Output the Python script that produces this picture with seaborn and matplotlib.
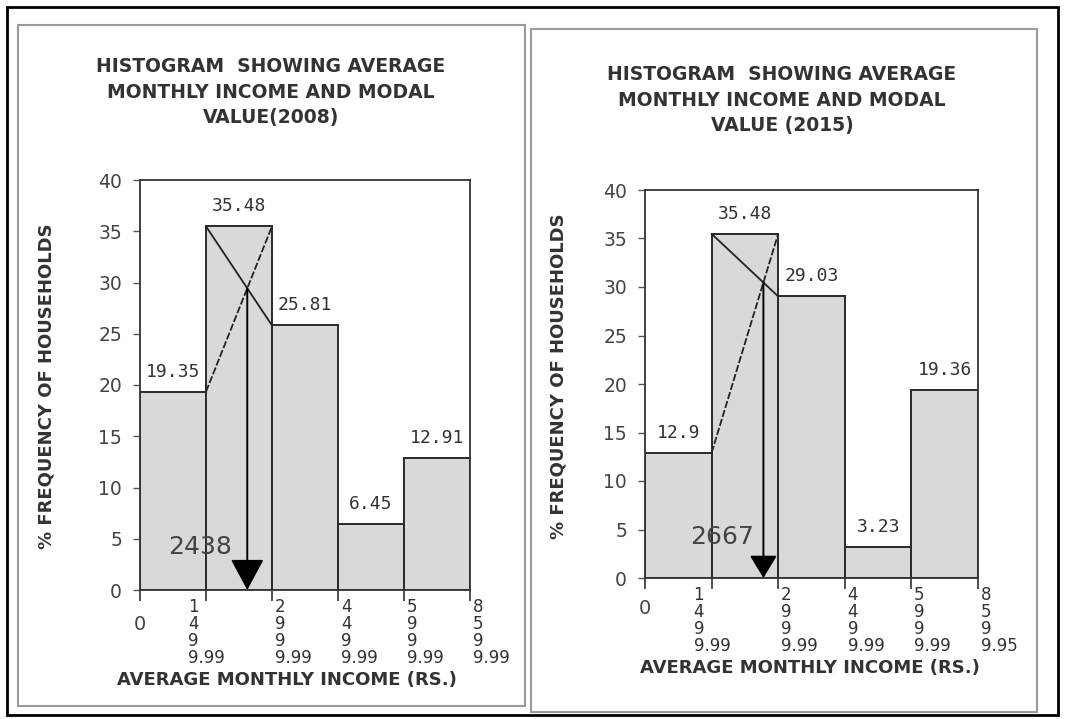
import numpy as np
import matplotlib
matplotlib.use("Agg")
import matplotlib.pyplot as plt
import seaborn as sns
from matplotlib.patches import Rectangle

# income classes (Rs.) - labels written under each class edge
edge_labels_2008 = ["0", "1499.99", "2999.99", "4499.99", "5999.99", "8599.99"]
edge_labels_2015 = ["0", "1499.99", "2999.99", "4499.99", "5999.99", "8599.95"]
class_lower = [0, 1500, 3000, 4500, 6000]
class_width = 1500

# % frequency of households per class
freq_2008 = [19.35, 35.48, 25.81, 6.45, 12.91]
freq_2015 = [12.9, 35.48, 29.03, 3.23, 19.36]

title_2008 = "HISTOGRAM  SHOWING AVERAGE\nMONTHLY INCOME AND MODAL\nVALUE(2008)"
title_2015 = "HISTOGRAM  SHOWING AVERAGE\nMONTHLY INCOME AND MODAL\nVALUE (2015)"
xlabel = "AVERAGE MONTHLY INCOME (RS.)"
ylabel = "% FREQUENCY OF HOUSEHOLDS"
yticks = [0, 5, 10, 15, 20, 25, 30, 35, 40]

sns.set_style("white")
plt.rcParams["font.family"] = ["DejaVu Sans"]

W, H = 1065, 719
fig = plt.figure(figsize=(W / 100, H / 100), dpi=100)
fig.patch.set_facecolor("white")


def fx(px):
    return px / W


def fy(py):
    return 1 - py / H


# outer frame and the two panel frames
fig.patches.append(Rectangle((fx(7), fy(715)), fx(1058) - fx(7), fy(7) - fy(715),
                             transform=fig.transFigure, fill=False, ec="black", lw=2))
fig.patches.append(Rectangle((fx(18), fy(706)), fx(525) - fx(18), fy(25) - fy(706),
                             transform=fig.transFigure, fill=False, ec="#9a9a9a", lw=1.5))
fig.patches.append(Rectangle((fx(531), fy(712)), fx(1037) - fx(531), fy(29) - fy(712),
                             transform=fig.transFigure, fill=False, ec="#9a9a9a", lw=1.5))


def draw_panel(box, freq, edge_labels, title, title_x, title_y, ylab_xy, xlab_xy,
               zero_drop, head, mode_text_shift):
    left, top, right, bottom = box
    ax = fig.add_axes([fx(left), fy(bottom), fx(right) - fx(left), fy(top) - fy(bottom)])
    pos = list(range(len(freq)))
    sns.barplot(x=pos, y=freq, ax=ax, width=1.0, color="#d9d9d9", saturation=1,
                edgecolor="#2a2a2a", linewidth=1.4)
    ax.set_xlim(-0.5, len(freq) - 0.5)
    ax.set_ylim(0, 40)
    ax.set_yticks(yticks)
    ax.set_yticklabels([str(t) for t in yticks], fontsize=13.5, color="#444444")
    edges = [p - 0.5 for p in pos] + [pos[-1] + 0.5]
    ax.set_xticks(edges)
    ax.set_xticklabels([])
    ax.tick_params(axis="y", direction="out", length=5, width=1, color="#555555", pad=8, left=True)
    ax.tick_params(axis="x", direction="out", length=8, width=1.2, color="#333333", bottom=True)
    ax.set_xlabel("")
    ax.set_ylabel("")
    for s in ax.spines.values():
        s.set_color("#333333")
        s.set_linewidth(1.3)

    # bar value labels
    for p, v in zip(pos, freq):
        ax.annotate(str(v), xy=(p, v), xytext=(0, 8), textcoords="offset points",
                    ha="center", va="bottom", fontsize=13, color="#333333",
                    family="DejaVu Sans Mono")

    # modal class construction
    k = int(np.argmax(freq))
    f0, f1, f2 = freq[k - 1], freq[k], freq[k + 1]
    t = (f1 - f0) / ((f1 - f0) + (f1 - f2))
    xm = k - 0.5 + t
    ym = f0 + (f1 - f0) * t
    ax.plot([k - 0.5, k + 0.5], [f1, f2], color="#222222", lw=1.3)
    ax.plot([k - 0.5, k + 0.5], [f0, f1], color="#222222", lw=1.3, ls=(0, (4, 1.2)))
    ax.annotate("", xy=(xm, 0), xytext=(xm, ym),
                arrowprops=dict(arrowstyle="-|>,head_length=%.2f,head_width=%.2f" % head,
                                color="black", lw=1.4, shrinkA=0, shrinkB=0))
    mode_val = class_lower[k] + t * class_width
    ax.text(xm + mode_text_shift, 4.2, "%d" % round(mode_val), ha="center", va="center",
            fontsize=18, color="#444444")

    # stacked edge labels
    for i, (e, lab) in enumerate(zip(edges, edge_labels)):
        if lab == "0":
            ax.annotate("0", xy=(e, 0), xytext=(0, -zero_drop), textcoords="offset points",
                        ha="center", va="center", fontsize=14, color="#444444")
            continue
        stacked = "\n".join(list(lab[:3])) + "\n" + lab[3:]
        dx = -13 if i == 1 else 2
        ax.annotate(stacked, xy=(e, 0), xytext=(dx, -6), textcoords="offset points",
                    ha="left", va="top", fontsize=12, color="#333333", linespacing=0.92,
                    multialignment="left")

    fig.text(fx(title_x), fy(title_y), title, ha="center", va="center", fontsize=13.5,
             fontweight="bold", color="#333333", linespacing=1.45)
    fig.text(fx(ylab_xy[0]), fy(ylab_xy[1]), ylabel, rotation=90, ha="center", va="center",
             fontsize=13, fontweight="bold", color="#333333")
    fig.text(fx(xlab_xy[0]), fy(xlab_xy[1]), xlabel, ha="center", va="center",
             fontsize=13, fontweight="bold", color="#333333")
    return ax


draw_panel((140, 180, 470, 590), freq_2008, edge_labels_2008, title_2008, 271, 92,
           (47, 386), (287, 680), 25, (1.95, 1.05), -0.71)
draw_panel((645, 190, 978, 578), freq_2015, edge_labels_2015, title_2015, 782, 100,
           (558, 376), (810, 668), 22, (1.4, 0.85), -0.62)

plt.savefig("out.png", dpi=100)
